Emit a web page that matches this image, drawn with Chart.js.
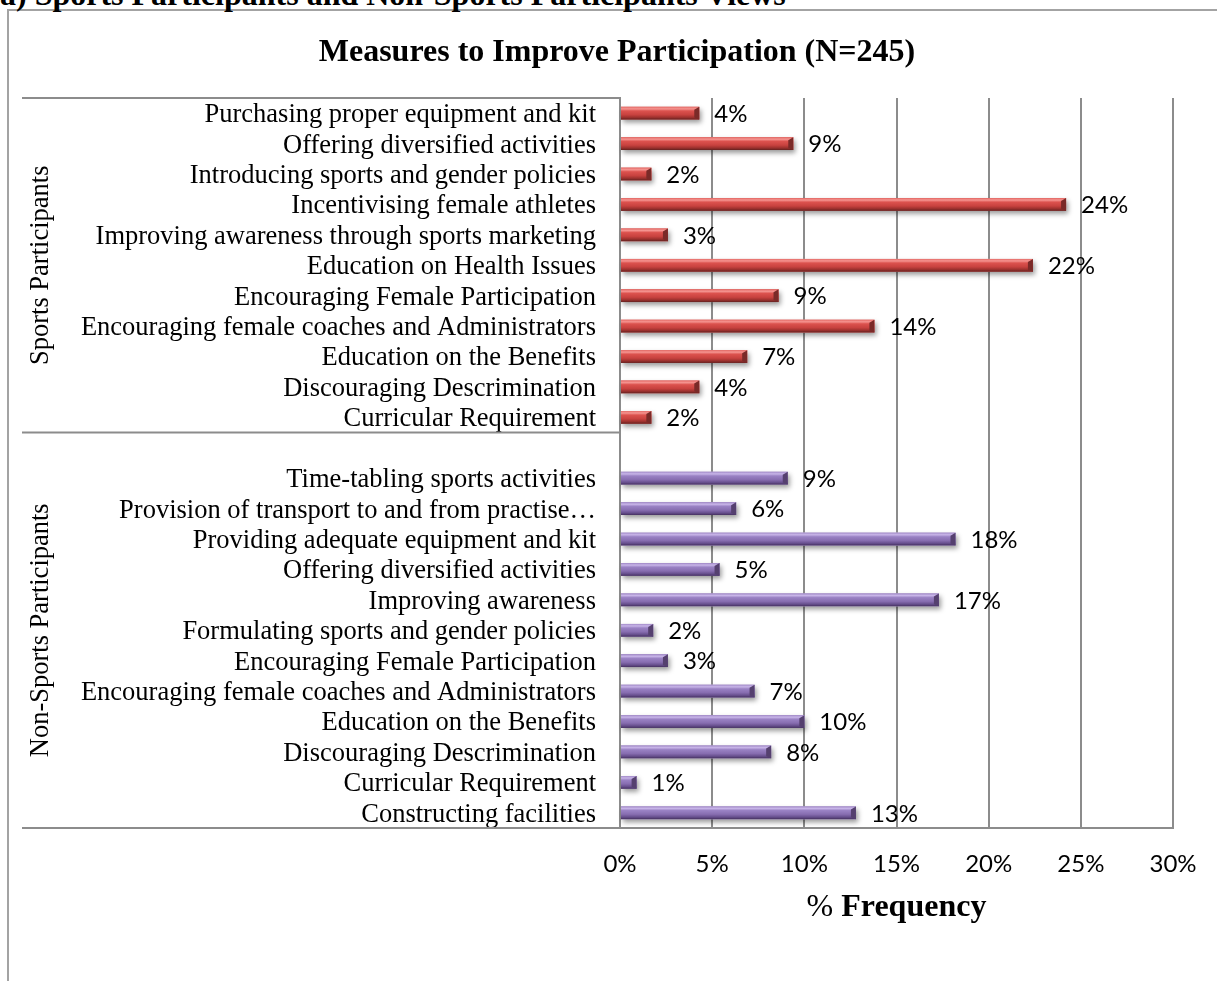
<!DOCTYPE html>
<html><head><meta charset="utf-8">
<script src="https://cdn.jsdelivr.net/npm/chart.js@4/dist/chart.umd.min.js"></script>
<style>
html,body{margin:0;padding:0;width:1217px;height:981px;overflow:hidden;background:#fff;}
#frame{position:absolute;left:7px;top:9px;width:1300px;height:1100px;border-left:2px solid #a3a3a3;border-top:2px solid #a3a3a3;}
#head{position:absolute;left:0;top:-22px;font:bold 32px "Liberation Serif";line-height:32px;white-space:nowrap;color:#000;}
#c{position:absolute;left:0;top:0;}
</style></head><body>
<div id="frame"></div>
<div id="head">a) Sports Participants and Non-Sports Participants Views</div>
<canvas id="c" width="1234" height="981"></canvas>
<script>
const chartTitle = 'Measures to Improve Participation (N=245)';
const groupNames = ['Sports Participants', 'Non-Sports Participants'];
const sportsLabels = ['Purchasing proper equipment and kit','Offering diversified activities','Introducing sports and gender policies','Incentivising female athletes','Improving awareness through sports marketing','Education on Health Issues','Encouraging Female Participation','Encouraging female coaches and Administrators','Education on the Benefits','Discouraging Descrimination','Curricular Requirement'];
const sportsValues = [4.3, 9.4, 1.7, 24.2, 2.6, 22.4, 8.6, 13.8, 6.9, 4.3, 1.7];
const nonSportsLabels = ['','Time-tabling sports activities','Provision of transport to and from practise\u2026','Providing adequate equipment and kit','Offering diversified activities','Improving awareness','Formulating sports and gender policies','Encouraging Female Participation','Encouraging female coaches and Administrators','Education on the Benefits','Discouraging Descrimination','Curricular Requirement','Constructing facilities'];
const nonSportsValues = [null, 9.1, 6.3, 18.2, 5.4, 17.3, 1.8, 2.6, 7.3, 10.0, 8.2, 0.9, 12.8];
const xTickValues = [0, 5, 10, 15, 20, 25, 30];
const xTitleParts = ['% ', 'Frequency'];

const labels = sportsLabels.concat(nonSportsLabels);
const values = sportsValues.concat(nonSportsValues);
const groupOf = labels.map((_, i) => i < sportsLabels.length ? 0 : 1);

const palettes = [
  {base:'#d24b48', stops:[[0,'#e46a66'],[0.16,'#f59490'],[0.32,'#dc524e'],[0.62,'#c8423f'],[0.84,'#9a302d'],[1,'#622120']], end:'#7a2a28'},
  {base:'#8f76b8', stops:[[0,'#a28ac8'],[0.16,'#c8b5e8'],[0.32,'#9a82c4'],[0.62,'#876db0'],[0.84,'#664e8c'],[1,'#45305f']], end:'#55406f'}
];

const serif = '"Liberation Serif", "Times New Roman", serif';
const sans = 'Lato, "Open Sans", sans-serif';

const decor = {
  id: 'decor',
  beforeDatasetsDraw(chart) {
    const ctx = chart.ctx, meta = chart.getDatasetMeta(0);
    ctx.save();
    meta.data.forEach((el, i) => {
      if (values[i] == null) return;
      const {x, y, base, height} = el.getProps(['x','y','base','height'], true);
      ctx.shadowColor = 'rgba(0,0,0,0.4)';
      ctx.shadowBlur = 5; ctx.shadowOffsetX = 2; ctx.shadowOffsetY = 3;
      ctx.fillStyle = '#fff';
      ctx.fillRect(base, y - height/2, x - base, height);
    });
    ctx.restore();
  },
  afterDatasetsDraw(chart) {
    const ctx = chart.ctx, meta = chart.getDatasetMeta(0);
    ctx.save();
    meta.data.forEach((el, i) => {
      if (values[i] == null) return;
      const {x, y, base, height} = el.getProps(['x','y','base','height'], true);
      const p = palettes[groupOf[i]];
      const top = y - height/2;
      const g = ctx.createLinearGradient(0, top, 0, top + height);
      p.stops.forEach(s => g.addColorStop(s[0], s[1]));
      ctx.fillStyle = g;
      ctx.fillRect(base, top, x - base, height);
      const e = Math.min(5, (x - base) / 2);
      ctx.fillStyle = p.end;
      ctx.beginPath();
      ctx.moveTo(x - e, top + 3); ctx.lineTo(x, top); ctx.lineTo(x, top + height); ctx.lineTo(x - e, top + height - 2);
      ctx.closePath(); ctx.fill();
      // data label
      ctx.fillStyle = '#000';
      ctx.font = '24px ' + sans;
      ctx.textAlign = 'left'; ctx.textBaseline = 'middle';
      ctx.fillText(Math.round(values[i]) + '%', x + 15, y + 1);
    });
    ctx.restore();
  },
  afterDraw(chart) {
    const ctx = chart.ctx, ys = chart.scales.y, a = chart.chartArea;
    ctx.save();
    // title
    ctx.fillStyle = '#000';
    ctx.font = 'bold 32px ' + serif;
    ctx.textAlign = 'center'; ctx.textBaseline = 'middle';
    ctx.fillText(chartTitle, chart.width / 2, 53);
    // group separators
    const n1 = sportsLabels.length;
    const mid = (ys.getPixelForValue(n1 - 1) + ys.getPixelForValue(n1)) / 2;
    ctx.strokeStyle = '#8c8c8c'; ctx.lineWidth = 2;
    [a.top, mid, a.bottom].forEach(yy => {
      ctx.beginPath(); ctx.moveTo(22, yy); ctx.lineTo(a.left, yy); ctx.stroke();
    });
    // group labels
    ctx.font = '26.5px ' + serif;
    ctx.textAlign = 'center'; ctx.textBaseline = 'middle';
    [[a.top, mid], [mid, a.bottom]].forEach((r, gi) => {
      ctx.save();
      ctx.translate(41, (r[0] + r[1]) / 2);
      ctx.rotate(-Math.PI / 2);
      ctx.fillText(groupNames[gi], 0, 0);
      ctx.restore();
    });
    // x axis title, mixed weight
    const f1 = '32px ' + serif, f2 = 'bold 32px ' + serif;
    ctx.font = f1; const w1 = ctx.measureText(xTitleParts[0]).width;
    ctx.font = f2; const w2 = ctx.measureText(xTitleParts[1]).width;
    const cx = (a.left + a.right) / 2;
    let sx = cx - (w1 + w2) / 2;
    ctx.textAlign = 'left'; ctx.textBaseline = 'middle';
    ctx.font = f1; ctx.fillText(xTitleParts[0], sx, 908);
    ctx.font = f2; ctx.fillText(xTitleParts[1], sx + w1, 908);
    ctx.restore();
  }
};

new Chart(document.getElementById('c'), {
  type: 'bar',
  data: {
    labels: labels,
    datasets: [{
      data: values,
      backgroundColor: ctx => palettes[groupOf[ctx.dataIndex]].base,
      borderWidth: 0,
      barPercentage: 0.42,
      categoryPercentage: 1.0
    }]
  },
  options: {
    indexAxis: 'y',
    responsive: false,
    animation: false,
    devicePixelRatio: 1,
    layout: {padding: {top: 98, right: 61, bottom: 0, left: 0}},
    plugins: {legend: {display: false}, tooltip: {enabled: false}, title: {display: false}},
    scales: {
      x: {
        type: 'linear', min: 0, max: 30,
        afterBuildTicks: s => { s.ticks = xTickValues.map(v => ({value: v})); },
        afterFit: s => { s.height = 153; },
        ticks: {callback: v => v + '%', color: '#000', font: {family: sans, size: 24}, padding: 22, maxRotation: 0},
        grid: {color: '#8c8c8c', lineWidth: 2, drawTicks: false},
        border: {display: true, color: '#8c8c8c', width: 2}
      },
      y: {
        afterFit: s => { s.width = 620; },
        ticks: {autoSkip: false, color: '#000', font: {family: serif, size: 26.5}, padding: 24, labelOffset: 2},
        grid: {display: false, drawTicks: false},
        border: {display: true, color: '#8c8c8c', width: 2}
      }
    }
  },
  plugins: [decor]
});
</script>
</body></html>
